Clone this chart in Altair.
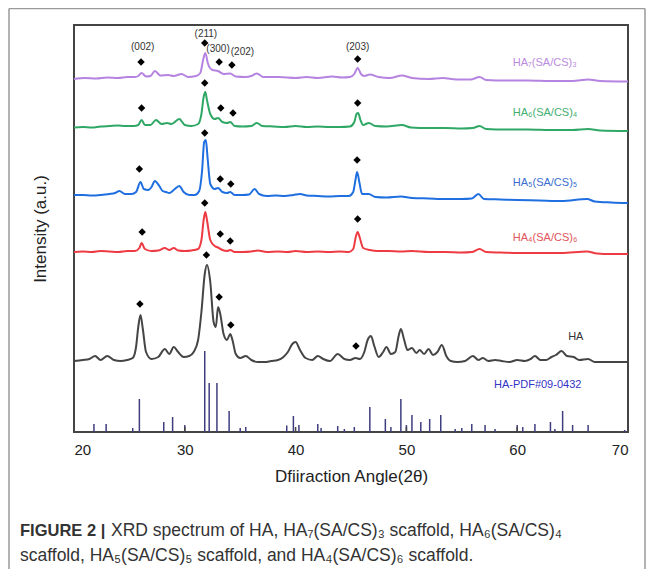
import altair as alt
import pandas as pd

W, H = 554, 407
FONT = "Liberation Sans"

# ---------------- data (2θ, intensity in arbitrary offset units) ----------------
ha7_x = [20.0, 21.0, 22.0, 23.0, 24.0, 24.8, 25.5, 25.8, 26.1, 26.5, 26.9, 27.3, 27.8, 28.5, 29.0, 29.7, 30.3, 31.0, 31.4,
         31.65, 31.85, 32.1, 32.5, 33.0, 33.5, 34.1, 34.6, 35.5, 36.0, 36.5, 37.1, 38.5, 40.0, 41.0, 42.0, 43.3, 44.2, 44.9,
         45.3, 45.6, 45.9, 46.2, 46.7, 47.5, 48.5, 49.6, 50.5, 52.0, 53.3, 54.5, 55.8, 56.6, 57.2, 59.0, 61.0, 63.0, 65.0,
         66.4, 67.5, 70.0]
ha7_y = [353, 354, 353.5, 354.5, 354, 355, 355, 356, 359, 355.5, 356, 361, 356.5, 357, 356, 358, 355, 356, 359,
         372, 379, 368, 362, 361, 358, 358.5, 355.5, 355, 356, 358.5, 355, 355, 354, 355, 354, 355.5, 354.5, 355,
         358, 364, 358, 356, 357.5, 355, 354, 356.5, 354, 353, 354, 352.5, 352.5, 355, 352, 351.5, 351.5, 351, 351,
         352.5, 351, 350.5]

ha6_x = [20.0, 20.8, 21.6, 22.4, 23.2, 24.0, 24.6, 25.4, 25.8, 26.1, 26.4, 26.9, 27.4, 27.9, 28.4, 28.8, 29.5, 30.0,
         30.6, 31.2, 31.5, 31.7, 31.85, 32.0, 32.3, 32.7, 33.0, 33.4, 33.8, 34.1, 34.5, 35.2, 36.0, 36.5, 37.0, 38.0,
         39.0, 40.0, 41.0, 42.0, 43.0, 44.0, 44.9, 45.3, 45.5, 45.65, 45.85, 46.1, 46.6, 47.2, 48.2, 49.6, 50.4, 52.0,
         53.5, 55.0, 56.0, 56.6, 57.2, 59.0, 61.0, 63.0, 65.0, 66.4, 67.5, 70.0]
ha6_y = [304.5, 305, 304.5, 305.5, 306, 306.5, 306, 306, 307, 312, 307, 307, 312, 308, 309, 308, 313, 307,
         306, 308, 318, 335, 340, 332, 318, 313, 314, 310, 309, 310, 306, 305.5, 306, 309, 306, 305.5,
         305, 306, 305, 305.5, 305, 305, 305.5, 310, 318, 319, 312, 307, 309, 306, 305.5, 307, 304.5, 304,
         304, 303.5, 304, 306, 303, 302.5, 302.5, 302, 302, 303, 301.5, 301]

ha5_x = [20.0, 20.8, 21.6, 22.4, 23.2, 23.7, 24.1, 24.6, 25.2, 25.6, 26.0, 26.3, 26.7, 27.0, 27.3, 27.7, 28.0, 28.3,
         28.6, 29.0, 29.5, 29.9, 30.4, 30.9, 31.3, 31.55, 31.75, 31.9, 32.05, 32.3, 32.7, 33.0, 33.4, 33.8, 34.1, 34.5,
         35.2, 35.8, 36.3, 36.7, 37.4, 38.2, 39.0, 39.8, 40.4, 41.0, 42.0, 43.0, 44.0, 44.8, 45.2, 45.4, 45.55, 45.75,
         46.0, 46.6, 47.2, 48.2, 49.5, 50.5, 52.0, 53.5, 55.0, 55.9, 56.5, 57.0, 58.5, 60.0, 62.0, 64.0, 66.3, 67.0,
         68.5, 70.0]
ha5_y = [237, 237, 236.5, 237, 238, 239, 241, 238, 238, 240, 250, 243, 242, 245, 251, 246, 241, 240,
         239, 242, 246, 240, 237, 237, 241, 260, 290, 292, 275, 248, 243, 244, 240, 239, 240, 237,
         237, 237.5, 243, 238, 236, 236.5, 236, 237, 238, 236.5, 236, 235.5, 236, 236, 240, 252, 260, 250,
         238, 238, 235, 234.5, 235.5, 234, 233.5, 233, 233, 233.5, 238, 233, 232.5, 232, 231.5, 231, 233, 230.5,
         229.5, 229]

ha4_x = [20.0, 20.8, 21.6, 22.4, 23.2, 24.0, 24.8, 25.5, 25.9, 26.1, 26.4, 27.0, 27.6, 28.2, 28.6, 29.0, 29.4, 30.0,
         30.6, 31.2, 31.5, 31.7, 31.85, 32.0, 32.3, 32.7, 33.0, 33.4, 33.8, 34.1, 34.5, 35.2, 36.0, 36.6, 37.4, 38.4,
         39.3, 40.0, 41.0, 42.0, 43.0, 44.0, 44.8, 45.2, 45.45, 45.6, 45.8, 46.1, 46.7, 47.4, 48.4, 49.5, 50.5, 52.0,
         53.5, 55.0, 55.9, 56.6, 57.2, 58.5, 60.0, 62.0, 64.0, 66.3, 67.2, 68.5, 70.0]
ha4_y = [180, 180.5, 180, 181, 180.5, 180, 181, 181, 184, 189, 183, 181, 181.5, 184, 182, 184, 181.5, 181,
         181.5, 183, 192, 212, 220, 212, 192, 186, 184.5, 182, 181, 182, 180, 180, 180.5, 181.5, 180, 180.5,
         180, 181, 180, 180.5, 180, 180.5, 180, 183, 196, 200, 194, 184, 182, 181, 181, 180.5, 181, 180,
         180, 179.5, 180, 183, 180, 179.5, 179, 179, 179, 180.5, 178.5, 178, 178]

ha_x = [20.0, 20.8, 21.4, 21.9, 22.4, 23.0, 23.6, 24.2, 24.8, 25.3, 25.6, 25.8, 26.0, 26.2, 26.5, 27.0, 27.6, 28.2, 28.6,
        29.0, 29.4, 29.9, 30.4, 30.8, 31.2, 31.5, 31.8, 32.0, 32.3, 32.6, 32.8, 33.0, 33.2, 33.5, 33.8, 34.1, 34.3, 34.6,
        35.0, 35.5, 36.0, 36.6, 37.2, 37.8, 38.4, 38.9, 39.3, 39.7, 40.0, 40.4, 40.9, 41.5, 42.0, 42.5, 43.1, 43.8, 44.4,
        44.9, 45.4, 45.8, 46.2, 46.5, 46.8, 47.1, 47.5, 47.9, 48.2, 48.6, 49.0, 49.3, 49.5, 49.8, 50.1, 50.5, 50.9, 51.2,
        51.6, 52.0, 52.4, 52.8, 53.2, 53.6, 54.0, 54.6, 55.3, 56.0, 56.5, 56.9, 57.4, 58.0, 58.6, 59.3, 60.0, 60.7, 61.2,
        61.6, 62.1, 62.6, 63.1, 63.5, 64.0, 64.5, 65.1, 65.6, 66.4, 67.0, 67.8, 68.6, 69.3, 70.0]
ha_y = [71, 72, 73, 76, 72, 76, 72, 71, 72, 74, 85, 105, 117, 104, 80, 73, 75, 83, 78,
        85, 80, 75, 76, 80, 92, 120, 158, 167, 150, 110, 105, 125, 118, 98, 92, 98, 92, 78,
        74, 76, 72, 70, 70, 71, 72, 75, 80, 88, 90, 82, 74, 72, 76, 73, 71, 78, 73,
        72, 74, 73, 80, 92, 96, 86, 75, 80, 85, 78, 80, 96, 103, 92, 82, 84, 79, 82,
        78, 83, 77, 80, 87, 76, 71, 70, 71, 76, 72, 74, 71, 72, 71, 70, 72, 71, 73,
        76, 72, 72, 75, 77, 81, 76, 75, 72, 73, 70, 70, 70, 70, 70]

# HA standard card sticks
pdf_x = [21.8, 22.9, 25.3, 25.9, 28.1, 28.9, 30.0, 31.8, 32.2, 32.9, 34.0, 35.0, 35.5, 39.2, 39.8, 40.3, 42.0, 42.3,
         43.8, 44.4, 45.3, 46.7, 48.1, 48.6, 49.5, 50.0, 50.5, 51.3, 52.1, 53.1, 54.4, 55.0, 55.9, 57.1, 58.0, 60.0,
         60.5, 61.6, 63.0, 63.4, 64.1, 65.0, 66.4, 69.7]
pdf_h = [8, 8, 4, 33, 10, 15, 7, 81, 49, 49, 21, 4, 5, 6.5, 16, 7, 8, 4,
         6, 3, 5, 25, 13, 5, 33, 7, 17, 10, 13, 17, 3, 4, 8, 7, 3, 7,
         5, 8, 10, 3, 21, 7, 7, 2]

# diamond markers (series, 2θ, height)
dia_series = ["HA7"] * 5 + ["HA6"] * 5 + ["HA5"] * 5 + ["HA4"] * 5 + ["HA"] * 5
dia_x = [26.05, 31.8, 33.1, 34.25, 45.6,
         26.1, 31.8, 33.25, 34.35, 45.6,
         25.9, 31.8, 33.2, 34.15, 45.55,
         26.15, 31.8, 33.2, 34.1, 45.6,
         25.95, 31.95, 33.1, 34.15, 45.45]
dia_y = [370, 389, 370, 367, 373,
         324, 349, 324, 319, 329,
         263, 299, 253, 248, 272,
         200, 229, 198, 191, 213,
         128, 177, 135, 107, 86]

hkl_text = ["(002)", "(211)", "(300)", "(202)", "(203)"]
hkl_x = [26.2, 31.9, 33.0, 35.2, 45.6]
hkl_y = [385, 398, 383, 380, 385]

label_text = ["HA\u2087(SA/CS)\u2083", "HA\u2086(SA/CS)\u2084", "HA\u2085(SA/CS)\u2085", "HA\u2084(SA/CS)\u2086",
              "HA", "HA-PDF#09-0432"]
label_x = [59.6, 59.6, 59.6, 59.6, 64.6, 57.9]
label_y = [369, 319, 249, 194, 95, 47]
label_color = ["#b98be0", "#3fae70", "#3a6fd0", "#e0555a", "#333333", "#3434c4"]

series_names = ["HA7", "HA6", "HA5", "HA4", "HA"]
series_colors = ["#b583e0", "#2fa866", "#1f6fe0", "#ee3b43", "#454545"]

tick_vals = [20, 30, 40, 50, 60, 70]

caption_bold = "FIGURE 2 |"
caption_l1 = "XRD spectrum of HA, HA\u2087(SA/CS)\u2083 scaffold, HA\u2086(SA/CS)\u2084"
caption_l2 = "scaffold, HA\u2085(SA/CS)\u2085 scaffold, and HA\u2084(SA/CS)\u2086 scaffold."

# ---------------- tables ----------------
curves = pd.concat([
    pd.DataFrame({"t": ha7_x, "i": ha7_y, "s": "HA7"}),
    pd.DataFrame({"t": ha6_x, "i": ha6_y, "s": "HA6"}),
    pd.DataFrame({"t": ha5_x, "i": ha5_y, "s": "HA5"}),
    pd.DataFrame({"t": ha4_x, "i": ha4_y, "s": "HA4"}),
    pd.DataFrame({"t": ha_x, "i": ha_y, "s": "HA"}),
], ignore_index=True)
sticks = pd.DataFrame({"t": pdf_x, "h": pdf_h, "z": 0})
dias = pd.DataFrame({"s": dia_series, "t": dia_x, "i": dia_y})
hkl = pd.DataFrame({"txt": hkl_text, "t": hkl_x, "i": hkl_y})
labels = pd.DataFrame({"txt": label_text, "t": label_x, "i": label_y, "c": label_color})
ticks = pd.DataFrame({"t": tick_vals})

xs = alt.Scale(domain=[20, 70], nice=False, zero=False)
ys = alt.Scale(domain=[0, H], nice=False, zero=False)

x_axis = alt.Axis(values=tick_vals, format="d", ticks=False, domain=False, grid=False,
                  labelFontSize=15, labelColor="#222", labelFont=FONT, labelPadding=10,
                  title="Dfiiraction Angle(2\u03b8)", titleFontSize=17, titleFontWeight="normal",
                  titleFont=FONT, titleColor="#222", titlePadding=11)
y_axis = alt.Axis(labels=False, ticks=False, domain=False, grid=False,
                  title="Intensity (a.u.)", titleFontSize=17, titleFontWeight="normal",
                  titleFont=FONT, titleColor="#222", titlePadding=25)

lines = alt.Chart(curves).mark_line(strokeWidth=2, interpolate="monotone").encode(
    x=alt.X("t:Q", scale=xs, axis=x_axis),
    y=alt.Y("i:Q", scale=ys, axis=y_axis),
    color=alt.Color("s:N", scale=alt.Scale(domain=series_names, range=series_colors), legend=None),
    detail="s:N",
)

stick_layer = alt.Chart(sticks).mark_rule(strokeWidth=1.5, color="#3d3d80").encode(
    x=alt.X("t:Q", scale=xs), y=alt.Y("z:Q", scale=ys), y2="h:Q")

dia_layer = alt.Chart(dias).mark_point(shape="diamond", filled=True, color="black", size=55, opacity=1).encode(
    x=alt.X("t:Q", scale=xs), y=alt.Y("i:Q", scale=ys))

hkl_layer = alt.Chart(hkl).mark_text(fontSize=10, font=FONT, color="#333").encode(
    x=alt.X("t:Q", scale=xs), y=alt.Y("i:Q", scale=ys), text="txt:N")

label_layer = alt.Chart(labels).mark_text(fontSize=11, font=FONT, align="left").encode(
    x=alt.X("t:Q", scale=xs), y=alt.Y("i:Q", scale=ys), text="txt:N",
    color=alt.Color("c:N", scale=None))

tick_layer = alt.Chart(ticks).mark_rule(color="#444", strokeWidth=1.5).encode(
    x=alt.X("t:Q", scale=xs), y=alt.value(H), y2=alt.value(H - 5))

# outer figure frame
frame_df = pd.DataFrame({"k": [0]})
frame_left = alt.Chart(frame_df).mark_rule(color="#9a9a9a", strokeWidth=1.5).encode(
    x=alt.value(-65), y=alt.value(-16.5), y2=alt.value(560))
frame_right = alt.Chart(frame_df).mark_rule(color="#9a9a9a", strokeWidth=1.5).encode(
    x=alt.value(571), y=alt.value(-16.5), y2=alt.value(560))
frame_top = alt.Chart(frame_df).mark_rule(color="#9a9a9a", strokeWidth=1.5).encode(
    x=alt.value(-65), x2=alt.value(571), y=alt.value(-16.5))

cap_b = alt.Chart(pd.DataFrame({"txt": [caption_bold]})).mark_text(
    fontSize=16.5, font=FONT, fontWeight="bold", align="left", baseline="middle", color="#333").encode(
    x=alt.value(-54), y=alt.value(506), text="txt:N")
cap_1 = alt.Chart(pd.DataFrame({"txt": [caption_l1]})).mark_text(
    fontSize=17.5, font=FONT, align="left", baseline="middle", color="#333").encode(
    x=alt.value(37), y=alt.value(506), text="txt:N")
cap_2 = alt.Chart(pd.DataFrame({"txt": [caption_l2]})).mark_text(
    fontSize=17.5, font=FONT, align="left", baseline="middle", color="#333").encode(
    x=alt.value(-54), y=alt.value(531), text="txt:N")

chart = alt.layer(
    stick_layer, lines, dia_layer, hkl_layer, label_layer, tick_layer,
    frame_left, frame_right, frame_top, cap_b, cap_1, cap_2,
).properties(
    width=W, height=H,
    autosize=alt.AutoSizeParams(type="none"),
    padding={"left": 66, "top": 17, "right": 19, "bottom": 137},
    background="white",
).configure_view(stroke="#444", strokeWidth=2)

chart.save("out.html", embed_options={"renderer": "svg", "actions": False})
